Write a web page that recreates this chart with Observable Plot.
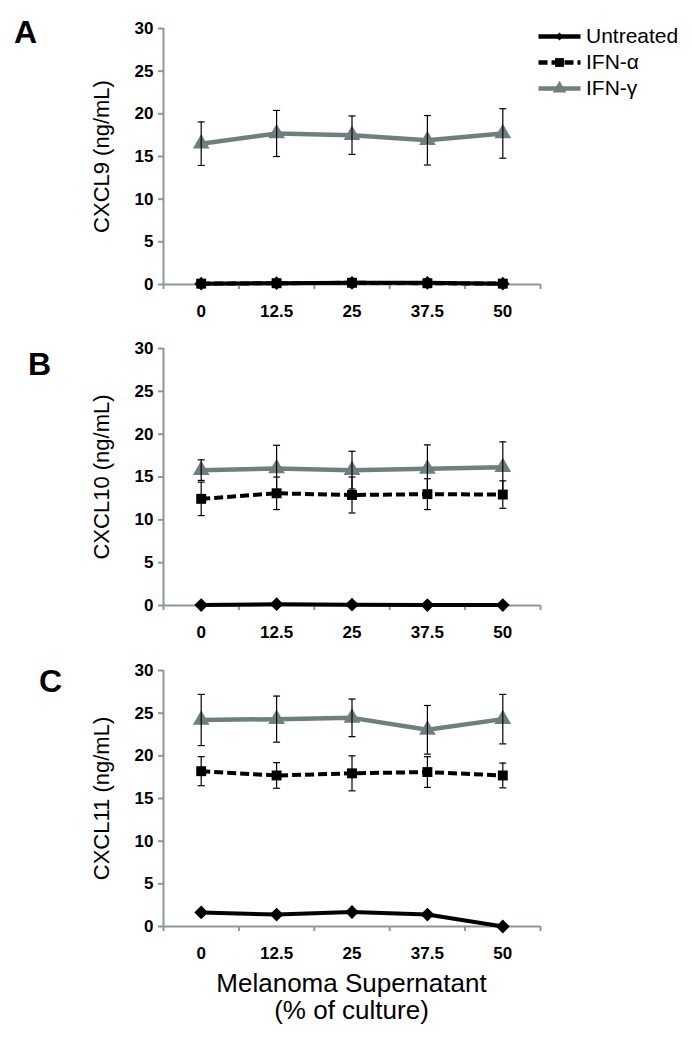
<!DOCTYPE html>
<html>
<head>
<meta charset="utf-8">
<script src="https://cdn.jsdelivr.net/npm/d3@7"></script>
<script src="https://cdn.jsdelivr.net/npm/@observablehq/plot@0.6"></script>
<style>
  body { margin: 0; background: #fff; }
  #root { position: relative; width: 692px; height: 1050px; font-family: "Liberation Sans", Arial, sans-serif; overflow: hidden; }
  .panel { position: absolute; left: 0; }
  .letter { position: absolute; font-size: 32px; font-weight: bold; line-height: 1; }
  .xtitle { position: absolute; left: 163px; width: 377px; top: 970px; text-align: center; font-size: 26px; line-height: 27px; }
  .legend { position: absolute; left: 538px; top: 23px; font-size: 21px; }
  .legend .row { height: 26px; display: flex; align-items: center; }
  .legend svg { margin-right: 6px; }
</style>
</head>
<body>
<div id="root"></div>
<script>
// ---- data ----
const categories = ["0", "12.5", "25", "37.5", "50"];
const seriesNames = ["Untreated", "IFN-α", "IFN-γ"];
const yTicks = [0, 5, 10, 15, 20, 25, 30];

// Panel A: CXCL9
const cxcl9Untreated = [0.1, 0.15, 0.2, 0.2, 0.1];
const cxcl9IfnA = [0.1, 0.15, 0.2, 0.15, 0.1];
const cxcl9IfnAErr = [0, 0, 0, 0, 0];
const cxcl9IfnG = [16.5, 17.7, 17.5, 16.9, 17.7];
const cxcl9IfnGErr = [2.55, 2.7, 2.25, 2.9, 2.9];

// Panel B: CXCL10
const cxcl10Untreated = [0.05, 0.15, 0.1, 0.05, 0.05];
const cxcl10IfnA = [12.45, 13.1, 12.9, 13.0, 12.95];
const cxcl10IfnAErr = [1.95, 1.9, 2.1, 1.8, 1.6];
const cxcl10IfnG = [15.8, 16.0, 15.8, 15.95, 16.15];
const cxcl10IfnGErr = [1.2, 2.7, 2.2, 2.8, 2.95];

// Panel C: CXCL11
const cxcl11Untreated = [1.65, 1.4, 1.7, 1.4, 0];
const cxcl11IfnA = [18.2, 17.7, 17.95, 18.1, 17.7];
const cxcl11IfnAErr = [1.7, 1.5, 2.05, 1.8, 1.45];
const cxcl11IfnG = [24.2, 24.3, 24.45, 23.05, 24.3];
const cxcl11IfnGErr = [3.0, 2.7, 2.2, 2.85, 2.9];

// ---- styles ----
const lineGray = "#6f7f7f";
const axisGray = "#8c9898";
const font = "'Liberation Sans', Arial, sans-serif";

const seriesStyle = {
  "Untreated": {stroke: "#000", dash: null, symbol: "diamond2", r: 6.2, width: 4},
  "IFN-α": {stroke: "#000", dash: "9,4", symbol: "square", r: 5.6, width: 4},
  "IFN-γ": {stroke: lineGray, dash: null, symbol: "triangle", r: 6.2, width: 4.5}
};

const capSymbol = {
  draw(ctx, size) {
    const w = Math.sqrt(size / Math.PI);
    ctx.moveTo(-w, 0);
    ctx.lineTo(w, 0);
  }
};

function rows(series, values, errors) {
  return values.map((v, i) => ({series, i, y: v, err: errors ? errors[i] : 0}));
}

function makePanel({title, data, height, marginTop, marginBottom}) {
  const boundaries = d3.range(categories.length + 1).map(k => k - 0.5);
  const withErr = data.filter(d => d.err > 0);
  const marks = [
    Plot.ruleY([0], {stroke: axisGray, strokeWidth: 2}),
    Plot.ruleX([-0.5], {stroke: axisGray, strokeWidth: 2}),
    Plot.axisY({ticks: yTicks, tickSize: 5, tickPadding: 5, stroke: axisGray, strokeWidth: 2,
      fill: "#000", fontSize: 17, fontWeight: "bold", label: null}),
    Plot.axisX({ticks: boundaries, tickSize: 5, tickFormat: () => "", stroke: axisGray, strokeWidth: 2, label: null}),
    Plot.axisX({ticks: d3.range(categories.length), tickSize: 0, tickPadding: 20,
      tickFormat: i => categories[i], fill: "#000", fontSize: 17, fontWeight: "bold", label: null}),
    Plot.text([title], {frameAnchor: "left", dx: -62, rotate: -90, fontSize: 22, textAnchor: "middle", fill: "#000"})
  ];
  for (const name of seriesNames) {
    const s = seriesStyle[name];
    const d = data.filter(r => r.series === name);
    if (!d.length) continue;
    marks.push(Plot.line(d, {x: "i", y: "y", stroke: s.stroke, strokeWidth: s.width,
      strokeDasharray: s.dash, strokeLinecap: "butt", strokeLinejoin: "round"}));
    marks.push(Plot.dot(d, {x: "i", y: "y", symbol: s.symbol, r: s.r, fill: s.stroke, stroke: "none"}));
  }
  marks.push(Plot.ruleX(withErr, {x: "i", y1: d => d.y - d.err, y2: d => d.y + d.err, stroke: "#000", strokeWidth: 1.2}));
  marks.push(Plot.dot(withErr, {x: "i", y: d => d.y + d.err, symbol: capSymbol, r: 3.5, stroke: "#000", strokeWidth: 1.2}));
  marks.push(Plot.dot(withErr, {x: "i", y: d => d.y - d.err, symbol: capSymbol, r: 3.5, stroke: "#000", strokeWidth: 1.2}));

  return Plot.plot({
    width: 692, height, marginLeft: 163, marginRight: 152, marginTop, marginBottom,
    x: {type: "linear", domain: [-0.5, categories.length - 0.5], axis: null},
    y: {domain: [0, 30], axis: null},
    style: {fontFamily: font, background: "transparent", overflow: "visible"},
    marks
  });
}

const root = document.getElementById("root");
const panels = [
  {top: 0, letter: "A", lx: 14, ly: 16, title: "CXCL9 (ng/mL)", marginTop: 28, marginBottom: 36,
    data: [...rows("Untreated", cxcl9Untreated), ...rows("IFN-α", cxcl9IfnA, cxcl9IfnAErr), ...rows("IFN-γ", cxcl9IfnG, cxcl9IfnGErr)]},
  {top: 320, letter: "B", lx: 28, ly: 348, title: "CXCL10 (ng/mL)", marginTop: 28, marginBottom: 35,
    data: [...rows("Untreated", cxcl10Untreated), ...rows("IFN-α", cxcl10IfnA, cxcl10IfnAErr), ...rows("IFN-γ", cxcl10IfnG, cxcl10IfnGErr)]},
  {top: 640, letter: "C", lx: 39, ly: 665, title: "CXCL11 (ng/mL)", marginTop: 30, marginBottom: 34,
    data: [...rows("Untreated", cxcl11Untreated), ...rows("IFN-α", cxcl11IfnA, cxcl11IfnAErr), ...rows("IFN-γ", cxcl11IfnG, cxcl11IfnGErr)]}
];

for (const p of panels) {
  const wrap = document.createElement("div");
  wrap.className = "panel";
  wrap.style.top = p.top + "px";
  wrap.appendChild(makePanel({title: p.title, data: p.data, height: 320, marginTop: p.marginTop, marginBottom: p.marginBottom}));
  root.appendChild(wrap);
  const L = document.createElement("div");
  L.className = "letter";
  L.style.left = p.lx + "px";
  L.style.top = p.ly + "px";
  L.textContent = p.letter;
  root.appendChild(L);
}

const xt = document.createElement("div");
xt.className = "xtitle";
xt.innerHTML = "Melanoma Supernatant<br>(% of culture)";
root.appendChild(xt);

// legend
const legend = document.createElement("div");
legend.className = "legend";
for (const name of seriesNames) {
  const s = seriesStyle[name];
  const row = document.createElement("div");
  row.className = "row";
  const sw = Plot.plot({
    width: 42, height: 16, margin: 0,
    x: {domain: [0, 1], axis: null}, y: {domain: [0, 1], axis: null},
    style: {background: "transparent", overflow: "visible"},
    marks: [
      Plot.line([{x: 0, y: 0.5}, {x: 1, y: 0.5}], {x: "x", y: "y", stroke: s.stroke, strokeWidth: 4.5, strokeDasharray: s.dash, strokeLinecap: "butt"}),
      Plot.dot([{x: 0.5, y: 0.5}], {x: "x", y: "y", symbol: s.symbol, r: name === "Untreated" ? 3.5 : 5, fill: s.stroke, stroke: "none"})
    ]
  });
  row.appendChild(sw);
  const t = document.createElement("span");
  t.textContent = name;
  row.appendChild(t);
  legend.appendChild(row);
}
root.appendChild(legend);
</script>
</body>
</html>
